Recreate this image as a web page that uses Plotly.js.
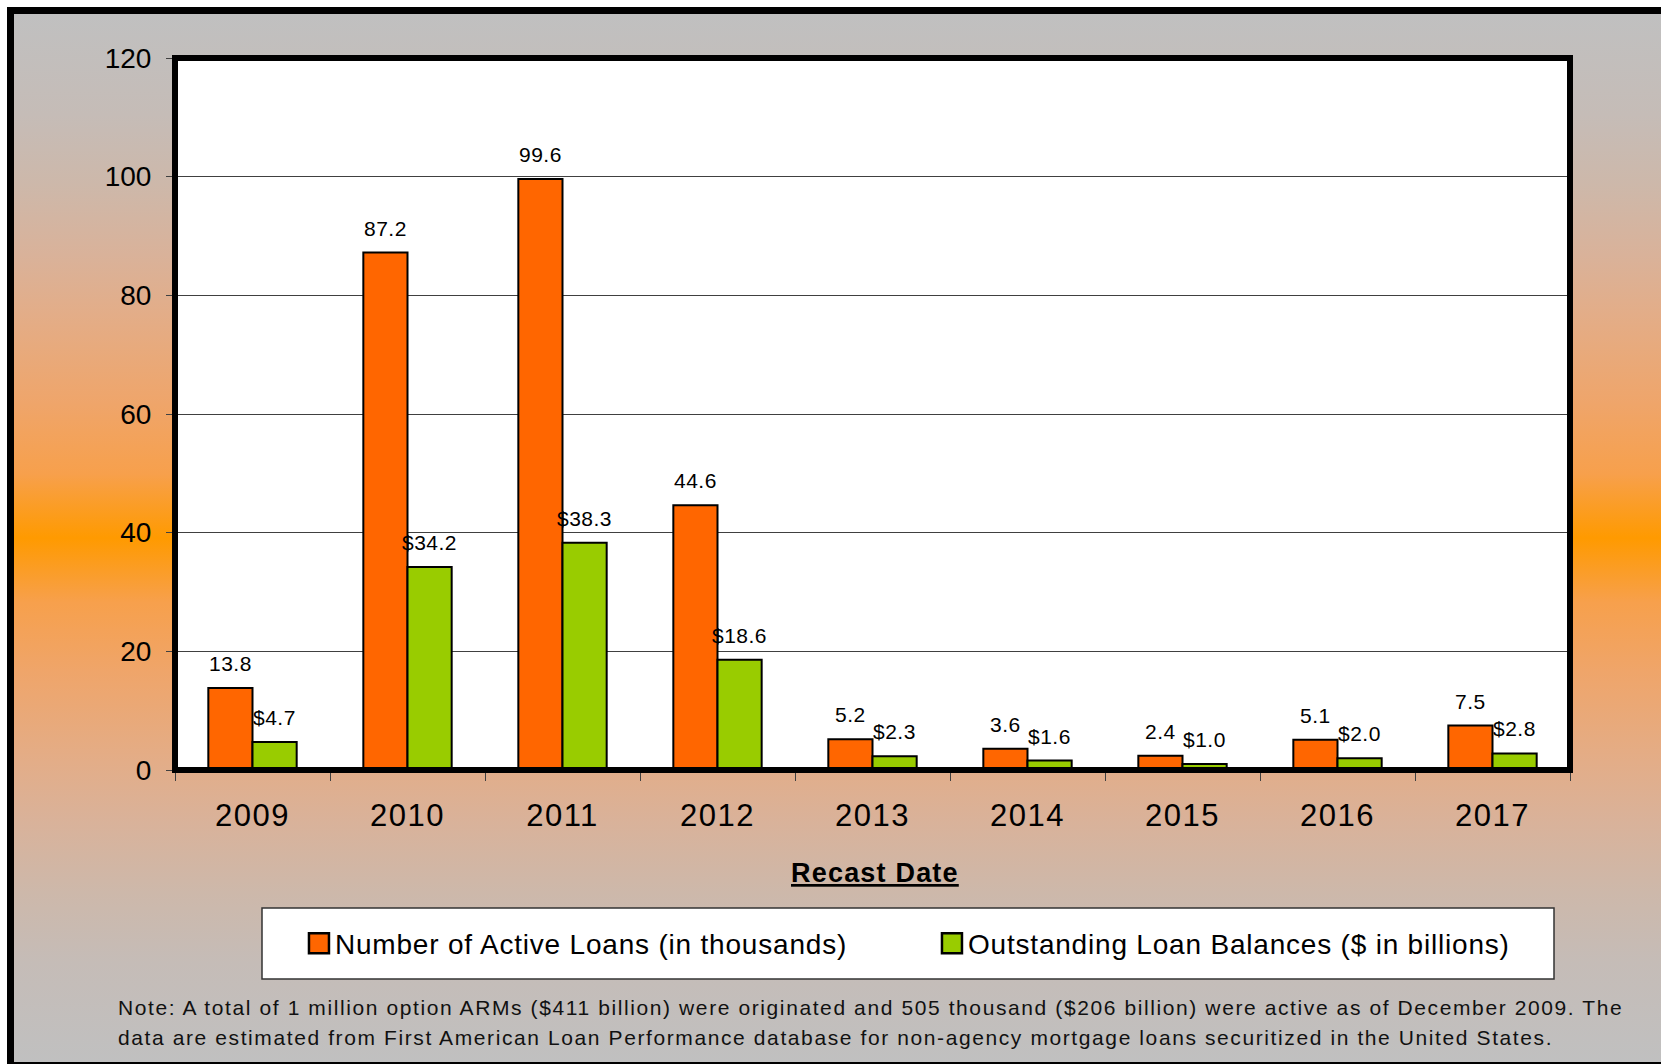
<!DOCTYPE html>
<html>
<head>
<meta charset="utf-8">
<script src="https://cdn.plot.ly/plotly-3.0.1.min.js"></script>
<style>
  html, body { margin: 0; padding: 0; background: #ffffff; width: 1661px; height: 1064px; overflow: hidden; }
  #frame {
    position: absolute; left: 7px; top: 7px; width: 1700px; height: 1057px;
    box-sizing: border-box;
    border-left: 7px solid #000; border-top: 7px solid #000; border-bottom: 2px solid #000;
    background: linear-gradient(to bottom,
      #C0C0C0 0px, #C5BCB7 100px, #CDB8AA 170px, #D9B29A 240px, #E3AD88 300px,
      #EFA56A 390px, #F7A04C 460px, #FF9A00 524px,
      #F7A04C 588px, #EFA56A 658px, #E3AD88 748px, #D9B29A 808px, #CDB8AA 878px,
      #C5BCB7 948px, #C0C0C0 1048px);
  }
  #chart { position: absolute; left: 0; top: 0; width: 1661px; height: 1064px; }
  #chart .xtick text { letter-spacing: 1.5px; }
  #chart .legendtext { letter-spacing: 0.8px; }
</style>
</head>
<body>
<div id="frame"></div>
<div id="chart"></div>
<script>
// ---- data ----
const recastYears = ['2009', '2010', '2011', '2012', '2013', '2014', '2015', '2016', '2017'];
const activeLoans = [13.8, 87.2, 99.6, 44.6, 5.2, 3.6, 2.4, 5.1, 7.5];       // thousands
const loanBalances = [4.7, 34.2, 38.3, 18.6, 2.3, 1.6, 1.0, 2.0, 2.8];       // $ billions
const seriesNames = ['Number of Active Loans (in thousands)', 'Outstanding Loan Balances ($ in billions)'];
const yTickValues = [0, 20, 40, 60, 80, 100, 120];
const xAxisTitle = 'Recast Date';
const noteLines = [
  'Note: A total of 1 million option ARMs ($411 billion) were originated and 505 thousand ($206 billion) were active as of December 2009. The',
  'data are estimated from First American Loan Performance database for non-agency mortgage loans securitized in the United States.'
];

const FONT = 'Arial, "Liberation Sans", Helvetica, sans-serif';
const BARGAP = 0.43;
const barHalf = (1 - BARGAP) / 4;   // centre offset of each bar inside its group

function spaced(txt, px) {
  return '<span style="letter-spacing:' + px + 'px">' + txt + '</span>';
}

const traces = [
  {
    type: 'bar', name: seriesNames[0], x: recastYears, y: activeLoans,
    marker: { color: '#FF6600', line: { color: '#000000', width: 2 } },
    hoverinfo: 'x+y'
  },
  {
    type: 'bar', name: seriesNames[1], x: recastYears, y: loanBalances,
    marker: { color: '#99CC00', line: { color: '#000000', width: 2 } },
    hoverinfo: 'x+y'
  }
];

const annotations = [];
recastYears.forEach((yr, i) => {
  annotations.push({
    xref: 'x', yref: 'y', x: i - barHalf, y: activeLoans[i],
    text: spaced(activeLoans[i].toFixed(1), 0.5), showarrow: false,
    xanchor: 'center', yanchor: 'bottom', yshift: 11,
    font: { family: FONT, size: 21, color: '#000' }
  });
  annotations.push({
    xref: 'x', yref: 'y', x: i + barHalf, y: loanBalances[i],
    text: spaced('$' + loanBalances[i].toFixed(1), 0.5), showarrow: false,
    xanchor: 'center', yanchor: 'bottom', yshift: 11,
    font: { family: FONT, size: 21, color: '#000' }
  });
});
annotations.push({
  xref: 'paper', yref: 'paper', x: 0.5018, y: -0.1440, xanchor: 'center', yanchor: 'middle',
  text: '<b>' + spaced(xAxisTitle, 1.2) + '</b>', showarrow: false,
  font: { family: FONT, size: 27, color: '#000', lineposition: 'under' }
});
const noteY = [-0.3336, -0.3764];
noteLines.forEach((line, k) => {
  annotations.push({
    xref: 'paper', yref: 'paper', x: -0.0423, y: noteY[k], xanchor: 'left', yanchor: 'middle',
    text: spaced(line, 1.6), showarrow: false, align: 'left',
    font: { family: FONT, size: 21, color: '#111' }
  });
});

const layout = {
  width: 1661, height: 1064,
  margin: { l: 175, r: 91, t: 58, b: 294 },
  paper_bgcolor: 'rgba(0,0,0,0)',
  plot_bgcolor: '#FFFFFF',
  barmode: 'group', bargap: BARGAP, bargroupgap: 0,
  font: { family: FONT, color: '#000' },
  showlegend: true,
  legend: {
    orientation: 'h', x: 0.0860, xanchor: 'left', y: -0.2437, yanchor: 'middle',
    bgcolor: 'rgba(0,0,0,0)', borderwidth: 0,
    font: { family: FONT, size: 28, color: '#000' },
    entrywidth: 588, entrywidthmode: 'pixels',
    traceorder: 'normal'
  },
  xaxis: {
    type: 'category', tickson: 'boundaries', ticks: 'outside', ticklen: 10, tickwidth: 1, tickcolor: '#404040',
    ticklabelstandoff: 24,
    showgrid: false, zeroline: false, showline: false,
    tickfont: { family: FONT, size: 31, color: '#000' },
    fixedrange: true
  },
  yaxis: {
    range: [0, 120], tickvals: yTickValues, ticks: 'outside', ticklen: 8, tickwidth: 1, tickcolor: '#404040',
    ticklabelstandoff: 9,
    showgrid: true, gridcolor: '#404040', gridwidth: 1, zeroline: false, showline: false,
    tickfont: { family: FONT, size: 28, color: '#000' },
    fixedrange: true
  },
  shapes: [
    { type: 'rect', xref: 'paper', yref: 'paper', x0: (262 - 175) / 1395, x1: (1554 - 175) / 1395,
      y0: (770 - 979) / 712, y1: (770 - 908) / 712,
      line: { color: '#333333', width: 1.5 }, fillcolor: '#FFFFFF', layer: 'below' },
    { type: 'rect', xref: 'paper', yref: 'paper', x0: 0, x1: 1, y0: 0, y1: 1,
      line: { color: '#000000', width: 6 }, fillcolor: 'rgba(0,0,0,0)', layer: 'above' }
  ],
  annotations: annotations
};

Plotly.newPlot('chart', traces, layout, { displayModeBar: false, staticPlot: true }).then(() => {
  document.querySelectorAll('#chart .legendpoints path').forEach(p => {
    p.setAttribute('d', 'M14,10H-6V-10H14Z');
    p.style.strokeWidth = '2.5px';
  });
});
</script>
</body>
</html>
